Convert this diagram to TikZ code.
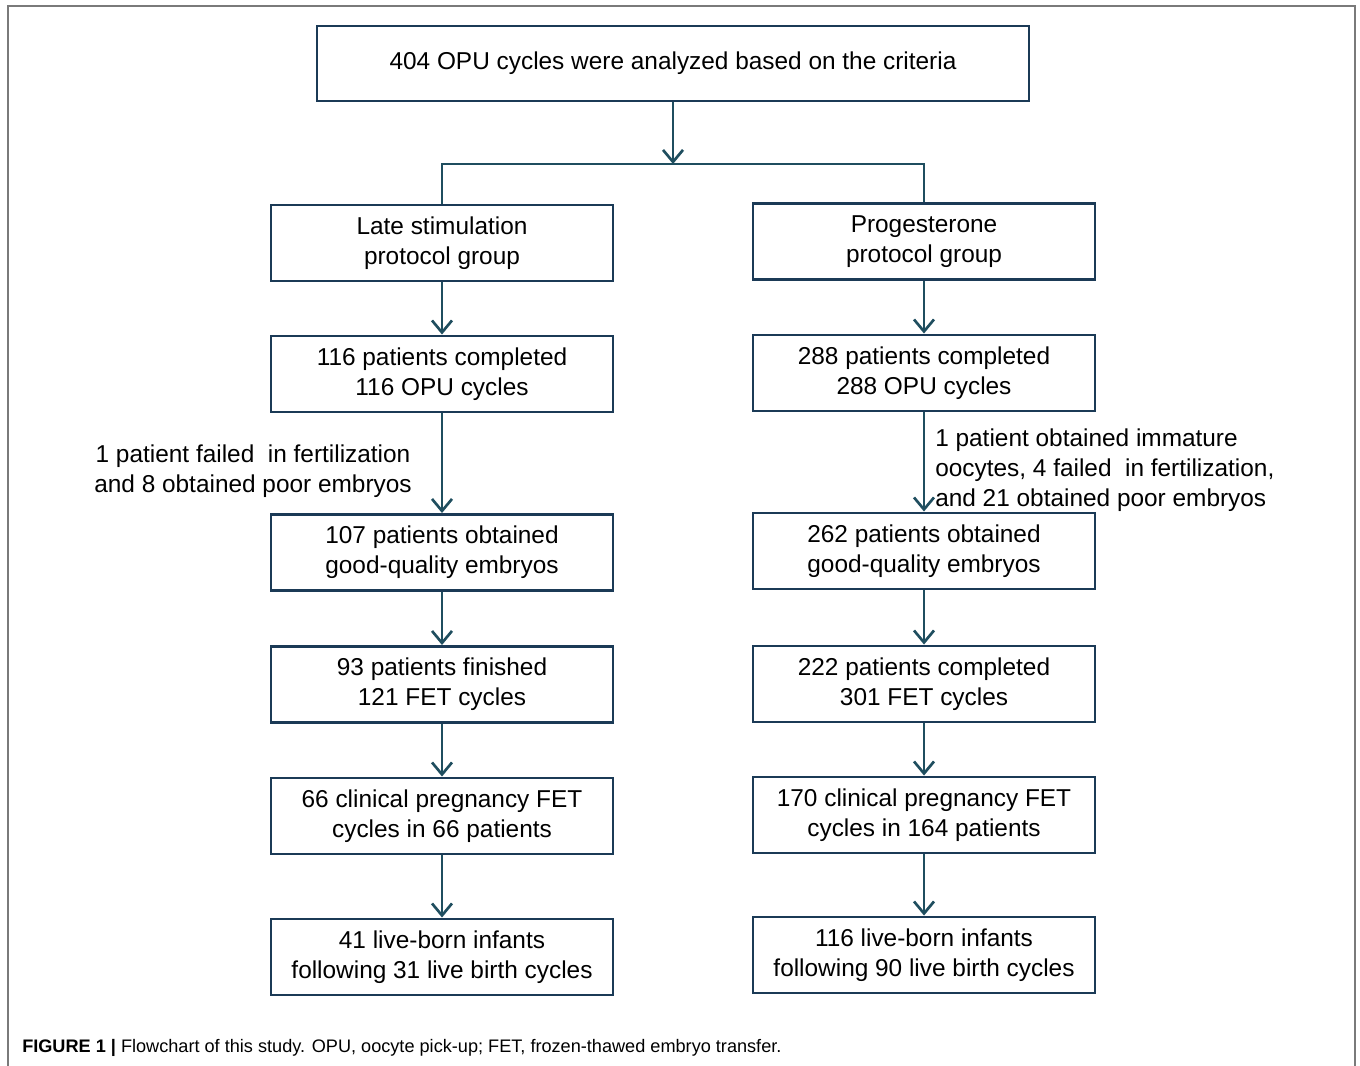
\documentclass[tikz,border=0pt]{standalone}
\usepackage{fontspec}
\setmainfont{Liberation Sans}
\usetikzlibrary{arrows.meta}
\definecolor{boxc}{HTML}{1B3A56}
\definecolor{arrc}{HTML}{1F4E5F}
\definecolor{framec}{HTML}{7A7A7A}
\begin{document}
\begin{tikzpicture}[x=0.75pt,y=-0.75pt,
  box/.style={draw=boxc,line width=2.2pt,fill=white,minimum width=256.5pt,minimum height=57pt,align=center,inner sep=0pt,font=\fontsize{18.3}{22.5}\selectfont},
  arr/.style={draw=arrc,line width=2.2pt,-{Straight Barb[length=9pt,width=15pt,line width=2pt]}},
  ln/.style={draw=arrc,line width=2.2pt},
  note/.style={inner sep=0pt,font=\fontsize{18.3}{22.5}\selectfont}]
\useasboundingbox (0,0) rectangle (1360,1066);
\fill[white] (0,0) rectangle (1360,1066);
% outer frame
\draw[framec,line width=1.5pt] (8,1066) -- (8,6) -- (1355,6) -- (1355,1066);
% top
\node[box,minimum width=534pt,minimum height=56.25pt] (top) at (673,63.5) {404 OPU cycles were analyzed based on the criteria};
% left column
\node[box] (L1) at (442,243) {Late stimulation\\protocol group};
\node[box] (L2) at (442,374) {116 patients completed\\116 OPU cycles};
\node[box] (L3) at (442,552.5) {107 patients obtained\\good-quality embryos};
\node[box] (L4) at (442,684.5) {93 patients finished\\121 FET cycles};
\node[box] (L5) at (442,816) {66 clinical pregnancy FET\\cycles in 66 patients};
\node[box] (L6) at (442,957) {41 live-born infants\\following 31 live birth cycles};
% right column
\node[box] (R1) at (924,241.5) {Progesterone\\protocol group};
\node[box] (R2) at (924,373) {288 patients completed\\288 OPU cycles};
\node[box] (R3) at (924,551) {262 patients obtained\\good-quality embryos};
\node[box] (R4) at (924,684) {222 patients completed\\301 FET cycles};
\node[box] (R5) at (924,815) {170 clinical pregnancy FET\\cycles in 164 patients};
\node[box] (R6) at (924,955) {116 live-born infants\\following 90 live birth cycles};
% split
\coordinate (split) at (673,164);
\coordinate (hl) at (442,164);
\coordinate (hr) at (924,164);
\draw[arr] (top.south) -- (split);
\draw[ln] (L1.north) -- (hl) -- (hr) -- (R1.north);
% column arrows
\foreach \a/\b in {L1/L2,L2/L3,L3/L4,L4/L5,L5/L6,R1/R2,R2/R3,R3/R4,R4/R5,R5/R6}{
  \draw[arr] (\a.south) -- (\b.north);
}
% notes
\node[note,align=center] (nl) at (253,471) {1 patient failed\ \ in fertilization\\and 8 obtained poor embryos};
\node[note,align=left,anchor=west] (nr) at (935,470.5) {1 patient obtained immature\\oocytes, 4 failed\ \ in fertilization,\\and 21 obtained poor embryos};
% caption
\node[anchor=base west,inner sep=0pt,font=\fontsize{13.6}{15}\selectfont] (cap) at (22,1052) {\textbf{FIGURE 1 |} Flowchart of this study. OPU, oocyte pick-up; FET, frozen-thawed embryo transfer.};
\end{tikzpicture}
\end{document}
